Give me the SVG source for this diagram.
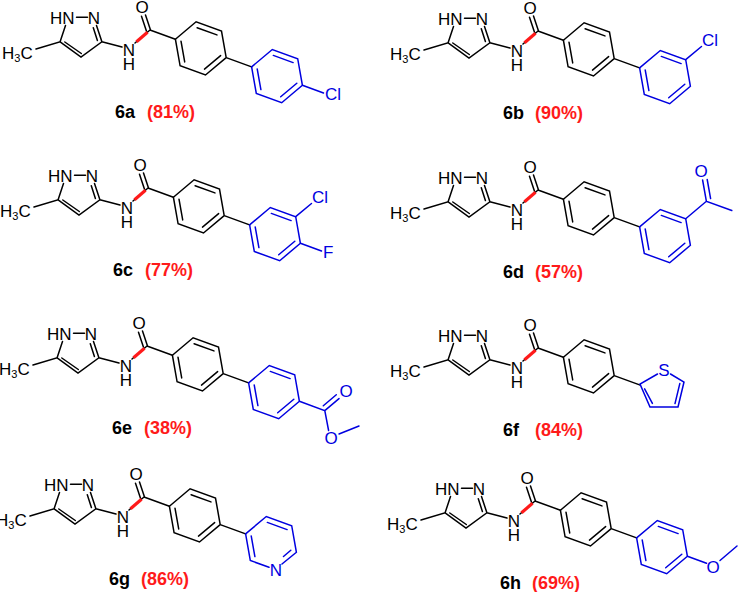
<svg xmlns="http://www.w3.org/2000/svg" xmlns:xlink="http://www.w3.org/1999/xlink" width="739" height="592" viewBox="0 0 739 592">
<style>
.b{stroke:#000;stroke-width:1.5;fill:none;stroke-linecap:round}
.bl{stroke:#0000e0;stroke-width:1.5;fill:none;stroke-linecap:round}
.r{stroke:#ff1a1a;stroke-width:3.2;stroke-linecap:butt}
.t{font-family:"Liberation Sans",Arial,sans-serif;font-size:17px;fill:#000}
.tb{font-family:"Liberation Sans",Arial,sans-serif;font-size:17px;fill:#0000e0}
.lab{font-family:"Liberation Sans",Arial,sans-serif;font-size:18px;font-weight:bold}
</style>
<defs>
<g id="core">
<text class="t" x="2" y="59">H<tspan font-size="11" dy="3">3</tspan><tspan dy="-3">C</tspan></text>
<text class="t" x="74.5" y="23.5" text-anchor="end">HN</text>
<text class="t" x="94" y="23.5" text-anchor="middle">N</text>
<text class="t" x="129" y="56" text-anchor="middle">N</text>
<text class="t" x="129" y="70" text-anchor="middle">H</text>
<text class="t" x="142" y="12.5" text-anchor="middle">O</text>
<path class="b" d="M36,49 L60.1,41.8 L81,57 L101.9,41.8 L96.5,25.5 M76.5,17.2 L87.5,17.2 M65.5,25.5 L60.1,41.8 M101.9,41.8 L122,47 M135,43 L150,30 M150.5,30 L145.5,15 M146.5,31.3 L141.5,16.3 M150,30 L175.4,39.2 M64.8,42 L81.3,53.5 M97.4,40.5 L93.3,27.8"/>
<path class="b" d="M175.4,39.2 L196.1,21.8 L221.5,31 L226.2,57.6 L205.5,75 L180.1,65.8 Z M197.1,27.7 L216.9,34.9 M220.6,55.6 L204.5,69.1 M184.7,61.9 L181,41.2 M226.2,57.6 L251.6,66.9"/>
<line class="r" x1="136.5" y1="41.8" x2="147.5" y2="32.3"/>
</g>
<path id="ph" class="bl" d="M251.6,66.9 L272.3,49.5 L297.7,58.7 L302.4,85.3 L281.7,102.7 L256.3,93.5 Z M273.3,55.4 L293.1,62.6 M296.8,83.3 L280.7,96.8 M260.9,89.6 L257.2,68.9"/>
</defs>
<g id="mol-6a">
<use xlink:href="#core"/><use xlink:href="#ph"/>
<path class="bl" d="M302.4,85.3 L323.5,93"/>
<text class="tb" x="325" y="100">Cl</text>
<text class="lab" x="115" y="118"><tspan fill="#000">6a</tspan><tspan x="147" fill="#ff1a1a">(81%)</tspan></text>
</g>
<g id="mol-6b" transform="translate(388,1)">
<use xlink:href="#core"/><use xlink:href="#ph"/>
<path class="bl" d="M297.7,58.7 L313.5,45.5"/>
<text class="tb" x="314" y="45">Cl</text>
<text class="lab" x="115" y="118"><tspan fill="#000">6b</tspan><tspan x="147" fill="#ff1a1a">(90%)</tspan></text>
</g>
<g id="mol-6c" transform="translate(-2,158)">
<use xlink:href="#core"/><use xlink:href="#ph"/>
<path class="bl" d="M297.7,58.7 L313.5,45.5 M302.4,85.3 L323.5,93"/>
<text class="tb" x="314" y="45">Cl</text>
<text class="tb" x="325" y="100">F</text>
<text class="lab" x="115" y="118"><tspan fill="#000">6c</tspan><tspan x="147" fill="#ff1a1a">(77%)</tspan></text>
</g>
<g id="mol-6d" transform="translate(388,160)">
<use xlink:href="#core"/><use xlink:href="#ph"/>
<path class="bl" d="M297.7,58.7 L318.4,41.3 L343.8,50.5 M318.4,41.3 L314.6,20 M322.6,38.6 L319.2,19.5"/>
<text class="tb" x="313" y="17" text-anchor="middle">O</text>
<text class="lab" x="115" y="118"><tspan fill="#000">6d</tspan><tspan x="147" fill="#ff1a1a">(57%)</tspan></text>
</g>
<g id="mol-6e" transform="translate(-3,316)">
<use xlink:href="#core"/><use xlink:href="#ph"/>
<path class="bl" d="M302.4,85.3 L327.8,94.6 L342,82.6 M326.3,89.8 L339.3,78.8 M327.8,94.6 L331.6,114.5 M342,118 L362,110"/>
<text class="tb" x="349" y="81" text-anchor="middle">O</text>
<text class="tb" x="334" y="128" text-anchor="middle">O</text>
<text class="lab" x="115" y="118"><tspan fill="#000">6e</tspan><tspan x="147" fill="#ff1a1a">(38%)</tspan></text>
</g>
<g id="mol-6f" transform="translate(388,318)">
<use xlink:href="#core"/>
<path class="bl" d="M269.5,56 L252,66 L262,89 L290,89 L296,64 L282.5,56 M256.6,70.8 L264.4,85.4 M287,85.6 L291.8,65.6"/>
<text class="tb" x="276" y="58" text-anchor="middle">S</text>
<text class="lab" x="115" y="118"><tspan fill="#000">6f</tspan><tspan x="147" fill="#ff1a1a">(84%)</tspan></text>
</g>
<g id="mol-6g" transform="translate(-6,467)">
<use xlink:href="#core"/>
<path class="bl" d="M288,97 L302.4,85.3 L297.7,58.7 L272.3,49.5 L251.6,66.9 L256.3,93.5 L275,100.3 M273.3,55.4 L293.1,62.6 M296.8,83.3 L289.5,89.5 M260.9,89.6 L257.2,68.9"/>
<text class="tb" x="282" y="109" text-anchor="middle">N</text>
<text class="lab" x="115" y="118"><tspan fill="#000">6g</tspan><tspan x="147" fill="#ff1a1a">(86%)</tspan></text>
</g>
<g id="mol-6h" transform="translate(385,471)">
<use xlink:href="#core"/><use xlink:href="#ph"/>
<path class="bl" d="M302.4,85.3 L321.5,92.3 M335,89.5 L352,75"/>
<text class="tb" x="328" y="102" text-anchor="middle">O</text>
<text class="lab" x="115" y="118"><tspan fill="#000">6h</tspan><tspan x="147" fill="#ff1a1a">(69%)</tspan></text>
</g>
</svg>
